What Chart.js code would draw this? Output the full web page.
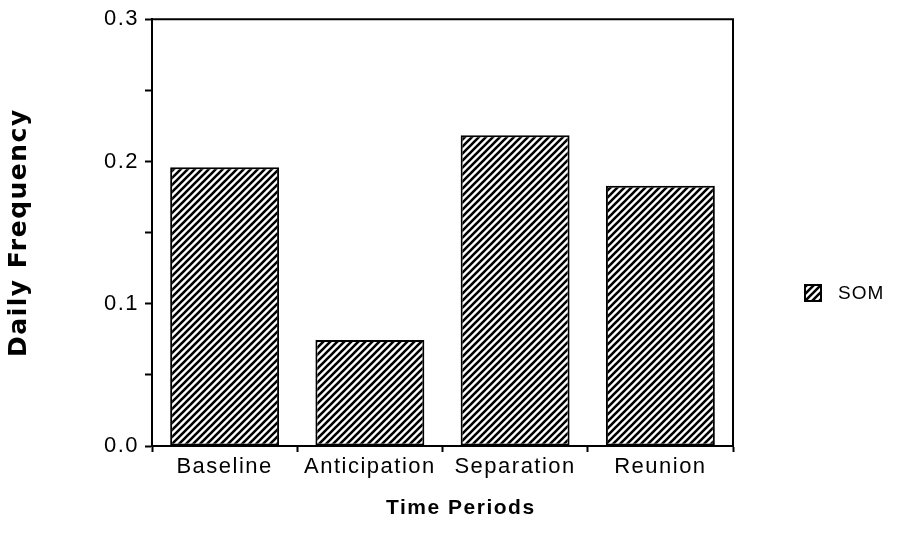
<!DOCTYPE html>
<html lang="en">
  <head>
    <meta charset="UTF-8" />
    <title>Daily Frequency by Time Period</title>
    <script src="https://cdn.jsdelivr.net/npm/chart.js"></script>
    <style>
      html, body { margin: 0; padding: 0; background: #fff; }
    </style>
  </head>
  <body>
    <canvas id="chart" width="905" height="534"></canvas>

    <script>
      const categories = ["Baseline", "Anticipation", "Separation", "Reunion"];
      const somValues = [0.196, 0.0745, 0.2185, 0.183];
      const seriesLabel = "SOM";
      const yTickLabels = ["0.0", "0.1", "0.2", "0.3"];

      const FONT = "'Liberation Sans', Arial, Helvetica, sans-serif";
      const WIDE_BOLD = "'DejaVu Sans', Verdana, sans-serif";

      // diagonal "/" hatch like the old plotter fill
      function makeHatch() {
        const s = 7;
        const c = document.createElement("canvas");
        c.width = s;
        c.height = s;
        const g = c.getContext("2d");
        g.fillStyle = "#fff";
        g.fillRect(0, 0, s, s);
        g.strokeStyle = "#000";
        g.lineWidth = 2.6;
        g.beginPath();
        g.moveTo(0, s);
        g.lineTo(s, 0);
        g.moveTo(-2, 2);
        g.lineTo(2, -2);
        g.moveTo(s - 2, s + 2);
        g.lineTo(s + 2, s - 2);
        g.stroke();
        return g.createPattern(c, "repeat");
      }

      const canvas = document.getElementById("chart");
      const ctx = canvas.getContext("2d");
      const hatch = makeHatch();

      // the scanned lettering is spaced out, so widen it a bit
      const spacing = {
        id: "spacing",
        beforeUpdate(chart) { chart.ctx.letterSpacing = "1.5px"; },
        beforeLayout(chart) { chart.ctx.letterSpacing = "1.5px"; },
        beforeDraw(chart) { chart.ctx.letterSpacing = "1.5px"; },
      };

      const frameAndLegend = {
        id: "frameAndLegend",
        afterDraw(chart) {
          const { ctx, chartArea } = chart;
          ctx.save();
          ctx.strokeStyle = "#000";
          ctx.lineWidth = 2;
          ctx.beginPath();
          ctx.moveTo(chartArea.left, chartArea.top);
          ctx.lineTo(chartArea.right, chartArea.top);
          ctx.lineTo(chartArea.right, chartArea.bottom);
          ctx.stroke();

          // legend
          const x = 805, y = 285, box = 16;
          ctx.fillStyle = hatch;
          ctx.fillRect(x, y, box, box);
          ctx.lineWidth = 2;
          ctx.strokeRect(x, y, box, box);
          ctx.fillStyle = "#000";
          ctx.font = "19px " + FONT;
          ctx.letterSpacing = "1px";
          ctx.textBaseline = "middle";
          ctx.textAlign = "left";
          ctx.fillText(chart.data.datasets[0].label, 838, y + box / 2 + 1);
          ctx.restore();
        },
      };

      new Chart(ctx, {
        type: "bar",
        data: {
          labels: categories,
          datasets: [
            {
              label: seriesLabel,
              data: somValues,
              backgroundColor: hatch,
              borderColor: "#000",
              borderWidth: 2,
              borderSkipped: false,
              barPercentage: 0.75,
              categoryPercentage: 1,
            },
          ],
        },
        options: {
          responsive: false,
          animation: false,
          devicePixelRatio: 1,
          layout: { padding: { top: 15, right: 172, bottom: 0, left: 0 } },
          plugins: { legend: { display: false }, tooltip: { enabled: false } },
          scales: {
            x: {
              afterFit: (s) => { s.height = 88; },
              grid: {
                offset: true,
                drawOnChartArea: false,
                tickLength: 6,
                tickColor: "#000",
                tickWidth: 2,
              },
              border: { color: "#000", width: 2 },
              ticks: {
                color: "#000",
                padding: 2,
                font: { family: FONT, size: 22 },
                maxRotation: 0,
              },
              title: {
                display: true,
                // sits a little right of centre in the original
                text: "     Time Periods",
                color: "#000",
                font: { family: FONT, size: 21, weight: "bold" },
                padding: { top: 0, bottom: 13 },
              },
            },
            y: {
              min: 0,
              max: 0.3,
              afterFit: (s) => { s.width = 152; },
              grid: {
                drawOnChartArea: false,
                tickLength: 7,
                tickColor: "#000",
                tickWidth: 2,
              },
              border: { color: "#000", width: 2 },
              ticks: {
                stepSize: 0.05,
                color: "#000",
                padding: 6,
                font: { family: FONT, size: 22 },
                callback: (v) => {
                  const k = Math.round(v * 20);
                  return k % 2 === 0 ? yTickLabels[k / 2] : "";
                },
              },
              title: {
                display: true,
                text: "Daily Frequency",
                color: "#000",
                font: { family: WIDE_BOLD, size: 25, weight: "bold" },
                padding: { top: 4, bottom: 0 },
              },
            },
          },
        },
        plugins: [spacing, frameAndLegend],
      });
    </script>
  </body>
</html>
